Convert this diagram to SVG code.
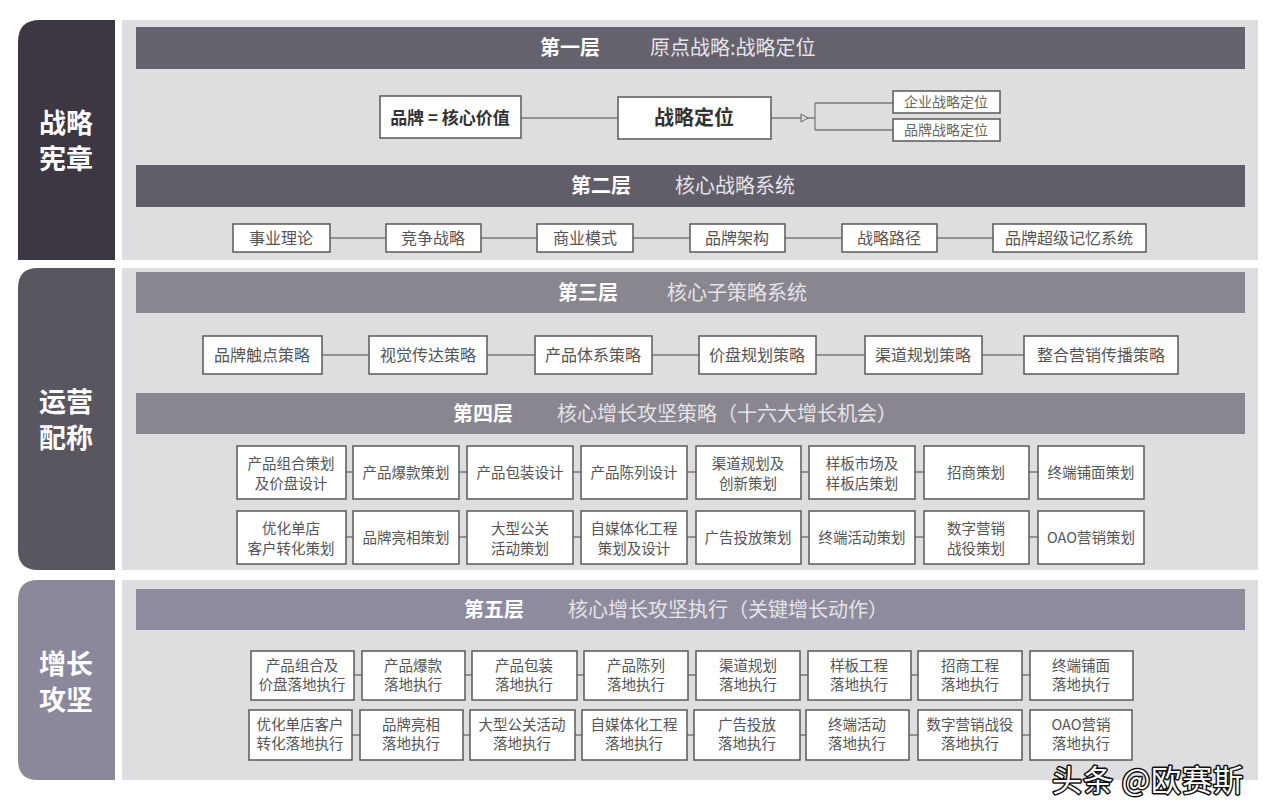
<svg xmlns="http://www.w3.org/2000/svg" width="1280" height="812" viewBox="0 0 1280 812">
<defs>
<style>
text{font-family:"Noto Sans CJK SC","Noto Sans",sans-serif}
.side{fill:#fff;font-size:27px;font-weight:bold;text-anchor:middle}
.hd{fill:#fff;font-size:20px;font-weight:bold;text-anchor:middle}
.sub{fill:#e4e4e8;font-size:20px}
.box{fill:#fff;stroke:#5a5a5a;stroke-width:1.5}
.bt{fill:#555;font-size:16px;text-anchor:middle}
.st{fill:#555;font-size:14.5px;text-anchor:middle}
.ln{stroke:#7a7a7a;stroke-width:1.3;fill:none}
</style>
<marker id="arr" markerWidth="10" markerHeight="10" refX="8" refY="5" orient="auto" markerUnits="userSpaceOnUse">
<path d="M1,1 L8,5 L1,9 Z" fill="#ddd" stroke="#666" stroke-width="1"/>
</marker>
</defs>
<rect width="1280" height="812" fill="#fff"/>

<!-- side bars -->
<g id="side1"><path d="M40,20 H115 V260 H18 V42 Q18,20 40,20 Z" fill="#3c3742"/><text class="side" x="66" y="133">战略</text><text class="side" x="66" y="169">宪章</text></g>
<g id="side2"><path d="M38,268 H115 V570 H38 Q18,570 18,550 V288 Q18,268 38,268 Z" fill="#5a5660"/><text class="side" x="66" y="412">运营</text><text class="side" x="66" y="448">配称</text></g>
<g id="side3"><path d="M38,580 H115 V780 H38 Q18,780 18,760 V600 Q18,580 38,580 Z" fill="#8c889c"/><text class="side" x="66" y="674">增长</text><text class="side" x="66" y="710">攻坚</text></g>

<!-- panels -->
<rect x="122" y="20" width="1136" height="240" fill="#dedee0"/>
<rect x="122" y="268" width="1136" height="302" fill="#dedee0"/>
<rect x="122" y="580" width="1136" height="200" fill="#dedee0"/>

<!-- headers -->
<g id="h1"><rect x="136" y="27" width="1109" height="42" fill="#65616d"/><text class="hd" x="570" y="55">第一层</text><text class="sub" x="650" y="55">原点战略:战略定位</text></g>
<g id="h2"><rect x="136" y="165" width="1109" height="42" fill="#615d69"/><text class="hd" x="601" y="193">第二层</text><text class="sub" x="675" y="193">核心战略系统</text></g>
<g id="h3"><rect x="136" y="272" width="1109" height="41" fill="#8a8690"/><text class="hd" x="588" y="300">第三层</text><text class="sub" x="667" y="300">核心子策略系统</text></g>
<g id="h4"><rect x="136" y="393" width="1109" height="41" fill="#8a8690"/><text class="hd" x="483" y="421">第四层</text><text class="sub" x="557" y="421">核心增长攻坚策略（十六大增长机会）</text></g>
<g id="h5"><rect x="136" y="589" width="1109" height="41" fill="#8e8b9f"/><text class="hd" x="494" y="617">第五层</text><text class="sub" x="568" y="617">核心增长攻坚执行（关键增长动作）</text></g>

<!-- connectors -->
<g id="connectors">
<path class="ln" d="M521,118 H618"/>
<path class="ln" d="M771,118 H808" marker-end="url(#arr)"/>
<path class="ln" d="M808,118 H815 M815,103 V130 M815,103 H893 M815,130 H893"/>
<path class="ln" d="M330,238 H386 M481,238 H537 M633,238 H690 M785,238 H842 M937,238 H993"/>
<path class="ln" d="M322,355 H369 M487,355 H535 M652,355 H699 M816,355 H865 M982,355 H1024"/>
<path class="ln" d="M346,472 H353 M459,472 H467 M573,472 H581 M687,472 H696 M801,472 H809 M915,472 H924 M1029,472 H1038"/>
<path class="ln" d="M346,537 H353 M459,537 H467 M573,537 H581 M687,537 H696 M801,537 H809 M915,537 H924 M1029,537 H1038"/>
<path class="ln" d="M354,675 H362 M465,675 H472 M577,675 H584 M688,675 H696 M800,675 H808 M911,675 H918 M1022,675 H1030"/>
<path class="ln" d="M352,735 H360 M463,735 H470 M575,735 H582 M687,735 H694 M800,735 H806 M909,735 H918 M1022,735 H1030"/>
</g>

<!-- layer 1 -->
<g id="n-brand"><rect class="box" x="380" y="96" width="141" height="42"/><text x="450" y="124" font-size="17" font-weight="bold" fill="#333" text-anchor="middle">品牌 = 核心价值</text></g>
<g id="n-pos"><rect class="box" x="618" y="97" width="153" height="42"/><text x="694" y="125" font-size="20" font-weight="bold" fill="#333" text-anchor="middle">战略定位</text></g>
<g id="n-corp"><rect class="box" x="893" y="91" width="107" height="22" stroke-width="1.2"/><text x="946" y="107" font-size="14" fill="#666" text-anchor="middle">企业战略定位</text></g>
<g id="n-bpos"><rect class="box" x="893" y="119" width="107" height="22" stroke-width="1.2"/><text x="946" y="135" font-size="14" fill="#666" text-anchor="middle">品牌战略定位</text></g>

<!-- layer 2 -->
<g id="l2-1"><rect class="box" x="233" y="224" width="97" height="28"/><text class="bt" x="281" y="244">事业理论</text></g>
<g id="l2-2"><rect class="box" x="386" y="224" width="95" height="28"/><text class="bt" x="433" y="244">竞争战略</text></g>
<g id="l2-3"><rect class="box" x="537" y="224" width="96" height="28"/><text class="bt" x="585" y="244">商业模式</text></g>
<g id="l2-4"><rect class="box" x="690" y="224" width="95" height="28"/><text class="bt" x="737" y="244">品牌架构</text></g>
<g id="l2-5"><rect class="box" x="842" y="224" width="95" height="28"/><text class="bt" x="889" y="244">战略路径</text></g>
<g id="l2-6"><rect class="box" x="993" y="224" width="153" height="28"/><text class="bt" x="1069" y="244">品牌超级记忆系统</text></g>

<!-- layer 3 -->
<g id="l3-1"><rect class="box" x="203" y="336" width="119" height="38"/><text class="bt" x="262" y="361">品牌触点策略</text></g>
<g id="l3-2"><rect class="box" x="369" y="336" width="118" height="38"/><text class="bt" x="428" y="361">视觉传达策略</text></g>
<g id="l3-3"><rect class="box" x="535" y="336" width="117" height="38"/><text class="bt" x="593" y="361">产品体系策略</text></g>
<g id="l3-4"><rect class="box" x="699" y="336" width="117" height="38"/><text class="bt" x="757" y="361">价盘规划策略</text></g>
<g id="l3-5"><rect class="box" x="865" y="336" width="117" height="38"/><text class="bt" x="923" y="361">渠道规划策略</text></g>
<g id="l3-6"><rect class="box" x="1024" y="336" width="154" height="38"/><text class="bt" x="1101" y="361">整合营销传播策略</text></g>

<!-- layer 4 row 1 -->
<g id="l4a-1"><rect class="box" x="237" y="446" width="109" height="53"/><text class="st" x="291" y="469">产品组合策划</text><text class="st" x="291" y="489">及价盘设计</text></g>
<g id="l4a-2"><rect class="box" x="353" y="446" width="106" height="53"/><text class="st" x="406" y="478">产品爆款策划</text></g>
<g id="l4a-3"><rect class="box" x="467" y="446" width="106" height="53"/><text class="st" x="520" y="478">产品包装设计</text></g>
<g id="l4a-4"><rect class="box" x="581" y="446" width="106" height="53"/><text class="st" x="634" y="478">产品陈列设计</text></g>
<g id="l4a-5"><rect class="box" x="696" y="446" width="105" height="53"/><text class="st" x="748" y="469">渠道规划及</text><text class="st" x="748" y="489">创新策划</text></g>
<g id="l4a-6"><rect class="box" x="809" y="446" width="106" height="53"/><text class="st" x="862" y="469">样板市场及</text><text class="st" x="862" y="489">样板店策划</text></g>
<g id="l4a-7"><rect class="box" x="924" y="446" width="105" height="53"/><text class="st" x="976" y="478">招商策划</text></g>
<g id="l4a-8"><rect class="box" x="1038" y="446" width="106" height="53"/><text class="st" x="1091" y="478">终端铺面策划</text></g>

<!-- layer 4 row 2 -->
<g id="l4b-1"><rect class="box" x="237" y="511" width="109" height="53"/><text class="st" x="291" y="534">优化单店</text><text class="st" x="291" y="554">客户转化策划</text></g>
<g id="l4b-2"><rect class="box" x="353" y="511" width="106" height="53"/><text class="st" x="406" y="543">品牌亮相策划</text></g>
<g id="l4b-3"><rect class="box" x="467" y="511" width="106" height="53"/><text class="st" x="520" y="534">大型公关</text><text class="st" x="520" y="554">活动策划</text></g>
<g id="l4b-4"><rect class="box" x="581" y="511" width="106" height="53"/><text class="st" x="634" y="534">自媒体化工程</text><text class="st" x="634" y="554">策划及设计</text></g>
<g id="l4b-5"><rect class="box" x="696" y="511" width="105" height="53"/><text class="st" x="748" y="543">广告投放策划</text></g>
<g id="l4b-6"><rect class="box" x="809" y="511" width="106" height="53"/><text class="st" x="862" y="543">终端活动策划</text></g>
<g id="l4b-7"><rect class="box" x="924" y="511" width="105" height="53"/><text class="st" x="976" y="534">数字营销</text><text class="st" x="976" y="554">战役策划</text></g>
<g id="l4b-8"><rect class="box" x="1038" y="511" width="106" height="53"/><text class="st" x="1091" y="543">OAO营销策划</text></g>

<!-- layer 5 row 1 -->
<g id="l5a-1"><rect class="box" x="251" y="651" width="103" height="49"/><text class="st" x="302" y="671">产品组合及</text><text class="st" x="302" y="690">价盘落地执行</text></g>
<g id="l5a-2"><rect class="box" x="362" y="651" width="103" height="49"/><text class="st" x="413" y="671">产品爆款</text><text class="st" x="413" y="690">落地执行</text></g>
<g id="l5a-3"><rect class="box" x="472" y="651" width="105" height="49"/><text class="st" x="524" y="671">产品包装</text><text class="st" x="524" y="690">落地执行</text></g>
<g id="l5a-4"><rect class="box" x="584" y="651" width="104" height="49"/><text class="st" x="636" y="671">产品陈列</text><text class="st" x="636" y="690">落地执行</text></g>
<g id="l5a-5"><rect class="box" x="696" y="651" width="104" height="49"/><text class="st" x="748" y="671">渠道规划</text><text class="st" x="748" y="690">落地执行</text></g>
<g id="l5a-6"><rect class="box" x="808" y="651" width="103" height="49"/><text class="st" x="859" y="671">样板工程</text><text class="st" x="859" y="690">落地执行</text></g>
<g id="l5a-7"><rect class="box" x="918" y="651" width="104" height="49"/><text class="st" x="970" y="671">招商工程</text><text class="st" x="970" y="690">落地执行</text></g>
<g id="l5a-8"><rect class="box" x="1030" y="651" width="103" height="49"/><text class="st" x="1081" y="671">终端铺面</text><text class="st" x="1081" y="690">落地执行</text></g>

<!-- layer 5 row 2 -->
<g id="l5b-1"><rect class="box" x="249" y="710" width="103" height="50"/><text class="st" x="300" y="730">优化单店客户</text><text class="st" x="300" y="749">转化落地执行</text></g>
<g id="l5b-2"><rect class="box" x="360" y="710" width="103" height="50"/><text class="st" x="411" y="730">品牌亮相</text><text class="st" x="411" y="749">落地执行</text></g>
<g id="l5b-3"><rect class="box" x="470" y="710" width="105" height="50"/><text class="st" x="522" y="730">大型公关活动</text><text class="st" x="522" y="749">落地执行</text></g>
<g id="l5b-4"><rect class="box" x="582" y="710" width="105" height="50"/><text class="st" x="634" y="730">自媒体化工程</text><text class="st" x="634" y="749">落地执行</text></g>
<g id="l5b-5"><rect class="box" x="694" y="710" width="106" height="50"/><text class="st" x="747" y="730">广告投放</text><text class="st" x="747" y="749">落地执行</text></g>
<g id="l5b-6"><rect class="box" x="806" y="710" width="103" height="50"/><text class="st" x="857" y="730">终端活动</text><text class="st" x="857" y="749">落地执行</text></g>
<g id="l5b-7"><rect class="box" x="918" y="710" width="104" height="50"/><text class="st" x="970" y="730">数字营销战役</text><text class="st" x="970" y="749">落地执行</text></g>
<g id="l5b-8"><rect class="box" x="1030" y="710" width="102" height="50"/><text class="st" x="1081" y="730">OAO营销</text><text class="st" x="1081" y="749">落地执行</text></g>

<!-- watermark -->
<text x="1052" y="791" font-size="30" fill="#fff" stroke="#111" stroke-width="3" paint-order="stroke" stroke-linejoin="round" letter-spacing="1">头条 @欧赛斯</text>
</svg>
